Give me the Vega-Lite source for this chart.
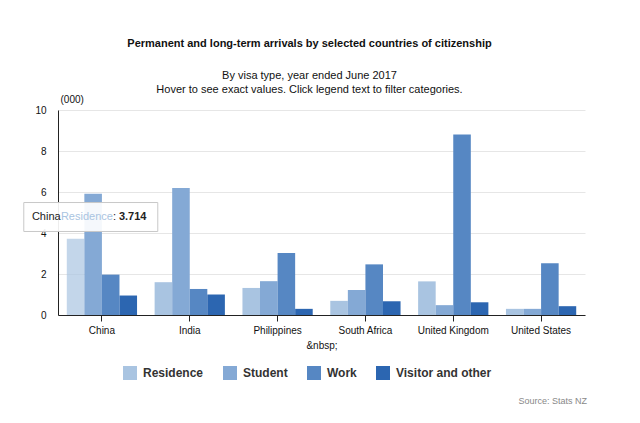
{
  "$schema": "https://vega.github.io/schema/vega-lite/v6.json",
  "autosize": "none",
  "width": 527,
  "height": 205,
  "padding": {"left": 58, "top": 110, "right": 55, "bottom": 108},
  "background": "white",
  "config": {
    "font": "Liberation Sans",
    "view": {"stroke": null},
    "axis": {"labelFont": "Liberation Sans", "titleFont": "Liberation Sans"}
  },
  "title": {
    "text": "Permanent and long-term arrivals by selected countries of citizenship",
    "subtitle": ["By visa type, year ended June 2017", "Hover to see exact values. Click legend text to filter categories."],
    "anchor": "middle",
    "dx": -12,
    "fontSize": 11,
    "fontWeight": "bold",
    "color": "#111",
    "subtitleFontSize": 11,
    "subtitleColor": "#111",
    "subtitlePadding": 21,
    "subtitleLineHeight": 14,
    "offset": -1
  },
  "data": {
    "values": [
      {"country": "China", "type": "Residence", "value": 3.714},
      {"country": "China", "type": "Student", "value": 5.92},
      {"country": "China", "type": "Work", "value": 1.97},
      {"country": "China", "type": "Visitor and other", "value": 0.95},
      {"country": "India", "type": "Residence", "value": 1.6},
      {"country": "India", "type": "Student", "value": 6.2},
      {"country": "India", "type": "Work", "value": 1.27},
      {"country": "India", "type": "Visitor and other", "value": 1.0},
      {"country": "Philippines", "type": "Residence", "value": 1.32},
      {"country": "Philippines", "type": "Student", "value": 1.65},
      {"country": "Philippines", "type": "Work", "value": 3.03},
      {"country": "Philippines", "type": "Visitor and other", "value": 0.3},
      {"country": "South Africa", "type": "Residence", "value": 0.69},
      {"country": "South Africa", "type": "Student", "value": 1.22},
      {"country": "South Africa", "type": "Work", "value": 2.47},
      {"country": "South Africa", "type": "Visitor and other", "value": 0.67},
      {"country": "United Kingdom", "type": "Residence", "value": 1.64},
      {"country": "United Kingdom", "type": "Student", "value": 0.48},
      {"country": "United Kingdom", "type": "Work", "value": 8.8},
      {"country": "United Kingdom", "type": "Visitor and other", "value": 0.62},
      {"country": "United States", "type": "Residence", "value": 0.3},
      {"country": "United States", "type": "Student", "value": 0.3},
      {"country": "United States", "type": "Work", "value": 2.52},
      {"country": "United States", "type": "Visitor and other", "value": 0.43}
    ]
  },
  "encoding": {
    "x": {
      "field": "country", "type": "nominal",
      "scale": {"paddingInner": 0.2, "paddingOuter": 0.1},
      "axis": {
        "title": "&nbsp;", "titleFontSize": 10, "titleFontWeight": "normal", "titleColor": "#111", "titlePadding": 5,
        "labelAngle": 0, "labelFontSize": 10, "labelColor": "#111", "labelPadding": 4,
        "domainColor": "#222", "tickColor": "#222", "tickSize": 6, "grid": false
      }
    },
    "y": {
      "field": "value", "type": "quantitative",
      "scale": {"domain": [0, 10]},
      "axis": {
        "title": "(000)", "titleAngle": 0, "titleAlign": "left", "titleBaseline": "bottom",
        "titleX": 2, "titleY": -6, "titleFontSize": 10, "titleFontWeight": "normal", "titleColor": "#111",
        "values": [0, 2, 4, 6, 8, 10], "labelFontSize": 10, "labelColor": "#111", "labelPadding": 12,
        "ticks": false, "domainColor": "#222", "gridColor": "#e6e6e6"
      }
    }
  },
  "layer": [
    {
      "mark": {"type": "bar"},
      "encoding": {
        "xOffset": {"field": "type", "type": "nominal", "sort": ["Residence", "Student", "Work", "Visitor and other"], "scale": {"paddingInner": 0}},
        "color": {
          "field": "type", "type": "nominal",
          "sort": ["Residence", "Student", "Work", "Visitor and other"],
          "scale": {"domain": ["Residence", "Student", "Work", "Visitor and other"], "range": ["#a9c4e1", "#84a9d5", "#5687c3", "#2c66b1"]},
          "legend": {
            "title": null, "orient": "none", "legendX": 65, "legendY": 256, "direction": "horizontal", "symbolType": "square", "symbolSize": 196,
            "symbolStrokeWidth": 0, "labelFontSize": 12, "labelFontWeight": "bold", "labelColor": "#333",
            "columnPadding": 19, "labelOffset": 6
          }
        },
        "opacity": {"condition": {"test": "datum.country === 'China' && datum.type === 'Residence'", "value": 0.7}, "value": 1}
      }
    },
    {
      "data": {"values": [{"country": "China", "value": 4.78}]},
      "mark": {"type": "point", "shape": "M-1,-0.216L1,-0.216L1,0.216L-1,0.216Z", "size": 17956, "filled": true, "fill": "white", "fillOpacity": 0.92, "stroke": "#c8c8c8", "strokeWidth": 1, "opacity": 1},
      "encoding": {"xOffset": {"value": 24}}
    },
    {
      "data": {"values": [{"country": "China", "value": 4.78, "t": "China"}]},
      "mark": {"type": "text", "align": "left", "baseline": "middle", "dx": -70, "fontSize": 11, "color": "#222"},
      "encoding": {"text": {"field": "t"}}
    },
    {
      "data": {"values": [{"country": "China", "value": 4.78, "t": "Residence"}]},
      "mark": {"type": "text", "align": "left", "baseline": "middle", "dx": -41, "fontSize": 11, "color": "#a9c4e1"},
      "encoding": {"text": {"field": "t"}}
    },
    {
      "data": {"values": [{"country": "China", "value": 4.78, "t": ":"}]},
      "mark": {"type": "text", "align": "left", "baseline": "middle", "dx": 11, "fontSize": 11, "color": "#222"},
      "encoding": {"text": {"field": "t"}}
    },
    {
      "data": {"values": [{"country": "China", "value": 4.78, "t": "3.714"}]},
      "mark": {"type": "text", "align": "left", "baseline": "middle", "dx": 17, "fontSize": 11, "fontWeight": "bold", "color": "#222"},
      "encoding": {"text": {"field": "t"}}
    },
    {
      "data": {"values": [{"country": "United States", "value": -4.2, "t": "Source: Stats NZ"}]},
      "mark": {"type": "text", "align": "right", "baseline": "middle", "dx": 46, "fontSize": 9, "color": "#888"},
      "encoding": {"text": {"field": "t"}}
    }
  ]
}
